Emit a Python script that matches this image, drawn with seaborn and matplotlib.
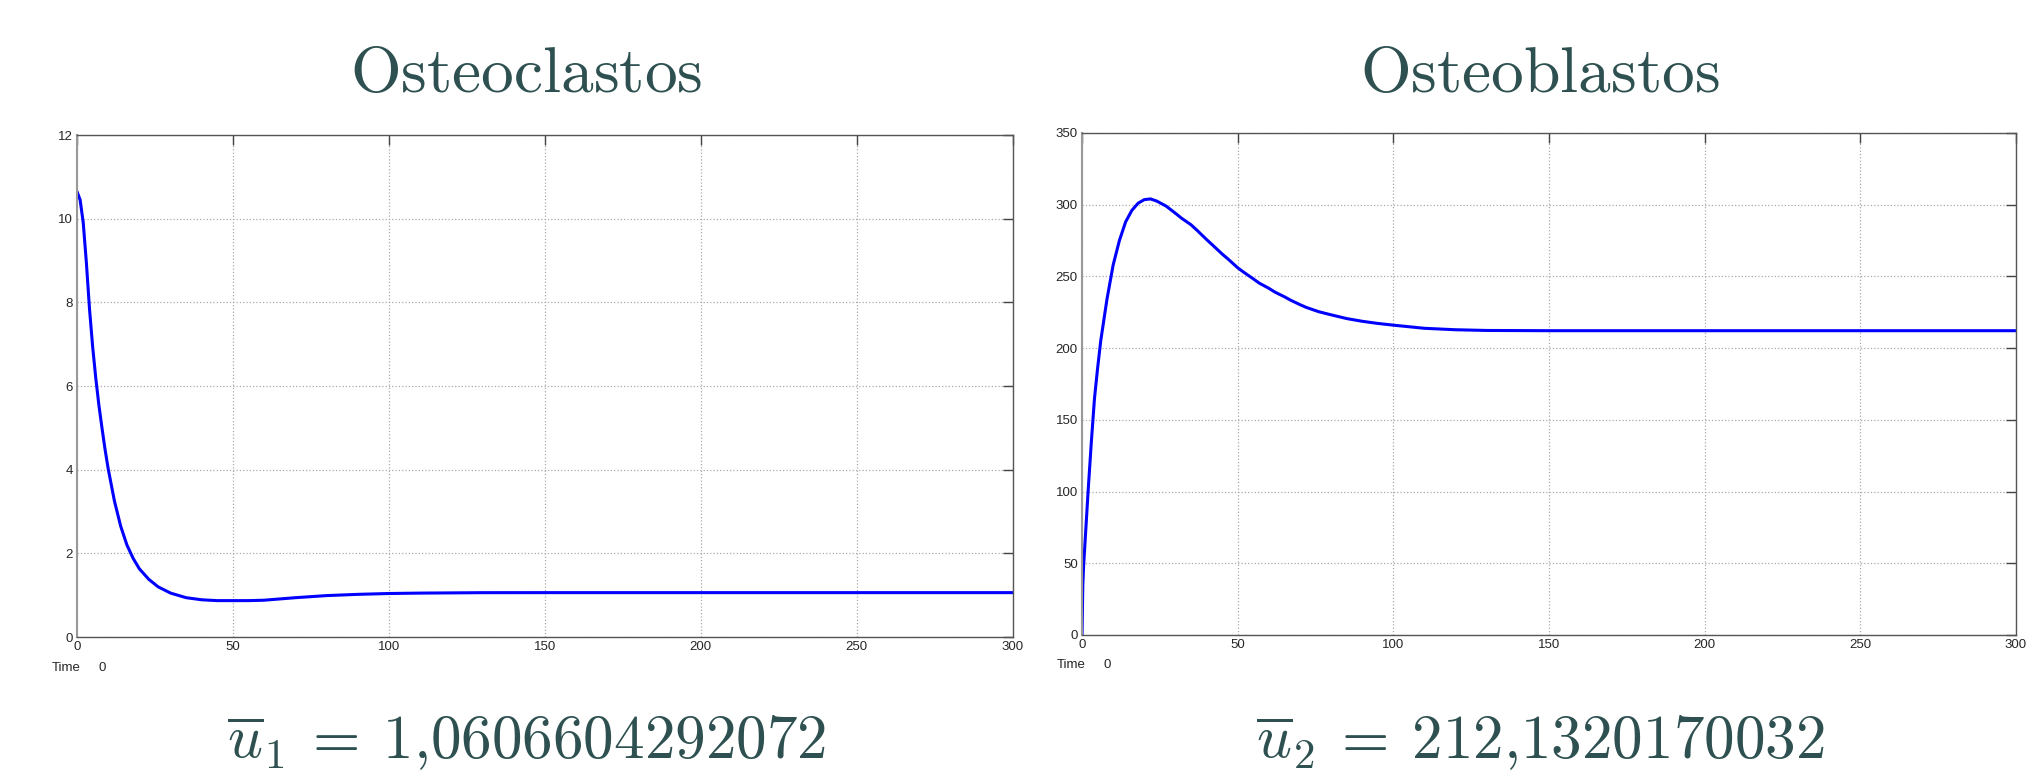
import numpy as np
import pandas as pd
import matplotlib
matplotlib.use("Agg")
import matplotlib.pyplot as plt
import seaborn as sns

# Osteoclastos (u1)
t_clast = [0, 1, 2, 3, 4, 5, 6, 7, 8, 9, 10, 12, 14, 16, 18, 20, 23, 26, 30, 35,
           40, 45, 50, 55, 60, 65, 70, 80, 90, 100, 110, 120, 130, 150, 200, 250, 300]
u_clast = [10.65, 10.45, 9.9, 8.95, 7.85, 6.95, 6.2, 5.55, 5.0, 4.48, 4.02, 3.25, 2.65,
           2.2, 1.88, 1.63, 1.38, 1.2, 1.05, 0.94, 0.89, 0.87, 0.87, 0.87, 0.88, 0.91,
           0.94, 0.99, 1.02, 1.04, 1.05, 1.055, 1.06, 1.061, 1.061, 1.061, 1.061]

# Osteoblastos (u2)
t_blast = [0, 0.25, 0.5, 1, 2, 3, 4, 5, 6, 8, 10, 12, 14, 16, 18, 20, 22, 24, 27, 30,
           32, 35, 37, 40, 42, 45, 47, 50, 52, 55, 57, 60, 62, 65, 67, 70, 72, 76, 80,
           85, 90, 95, 100, 110, 120, 130, 150, 200, 250, 300]
u_blast = [0, 35, 48, 66, 102, 135, 165, 186, 205, 234, 258, 275, 288, 296, 301, 303.5,
           304, 302.5, 299, 294, 290.5, 286, 282, 275.7, 271.7, 265.6, 261.9, 256, 252.8,
           248.3, 245.2, 241.7, 239, 235.8, 233.4, 230.3, 228.4, 225.4, 223.2, 220.6,
           218.7, 217.2, 216, 213.8, 212.8, 212.3, 212.13, 212.13, 212.13, 212.13]

titles = ["Osteoclastos", "Osteoblastos"]
means = [r"$\overline{u}_1 \:=\: 1{,}0606604292072$", r"$\overline{u}_2 \:=\: 212{,}1320170032$"]
y_ticks = [np.arange(0, 13, 2), np.arange(0, 351, 50)]
x_ticks = np.arange(0, 301, 50)

sns.set_style("white")
plt.rcParams["font.family"] = ["Liberation Sans", "DejaVu Sans"]
plt.rcParams["mathtext.fontset"] = "cm"

df1 = pd.DataFrame({"t": t_clast, "u": u_clast})
df2 = pd.DataFrame({"t": t_blast, "u": u_blast})

fig = plt.figure(figsize=(20.32, 7.82), dpi=100)
ax1 = fig.add_axes([0.0379, 0.1854, 0.4605, 0.6419])
ax2 = fig.add_axes([0.5325, 0.188, 0.4596, 0.642])

title_color = "#2e5050"
for ax, df, yt, ttl, mean, cx in [(ax1, df1, y_ticks[0], titles[0], means[0], 0.259),
                                  (ax2, df2, y_ticks[1], titles[1], means[1], 0.758)]:
    sns.lineplot(data=df, x="t", y="u", ax=ax, color="#0000ff", linewidth=2.2)
    ax.set_xlim(0, 300)
    ax.set_ylim(yt[0], yt[-1])
    ax.set_xticks(x_ticks)
    ax.set_yticks(yt)
    ax.set_xlabel("")
    ax.set_ylabel("")
    ax.grid(True, linestyle=":", color="#aaaaaa", linewidth=0.9)
    ax.tick_params(direction="in", length=7, width=1, color="#444444",
                   top=True, right=True, labelsize=9.5, pad=3)
    for s in ax.spines.values():
        s.set_color("#555555")
        s.set_linewidth(1.0)
    ax.spines["left"].set_color("#999999")
    ax.spines["left"].set_linewidth(1.5)

    fig.text(cx, 0.882, r"$\mathrm{%s}$" % ttl, ha="center", va="baseline",
             fontsize=47, color=title_color)
    fig.text(cx, 0.031, mean, ha="center", va="baseline", fontsize=44, color=title_color)

fig.text(0.0256, 0.146, "Time", fontsize=9.5, va="center")
fig.text(0.0487, 0.146, "0", fontsize=9.5, va="center")
fig.text(0.520, 0.150, "Time", fontsize=9.5, va="center")
fig.text(0.543, 0.150, "0", fontsize=9.5, va="center")

fig.savefig("out.png", dpi=100, facecolor="white")
